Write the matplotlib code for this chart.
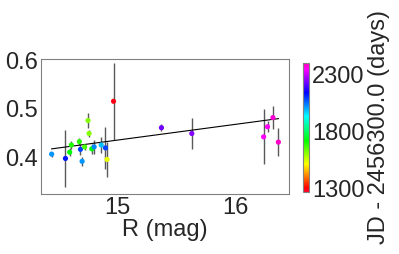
import matplotlib
matplotlib.use("Agg")
import matplotlib.pyplot as plt
from matplotlib import cm, colors
import numpy as np

plt.rcParams['font.family'] = ['Liberation Sans', 'DejaVu Sans']

# R magnitude, quantity, error, epoch (JD - 2456300.0)
rmag = [14.44, 14.557, 14.593, 14.607, 14.675, 14.684, 14.698, 14.72, 14.748, 14.757, 14.78,
        14.80, 14.86, 14.896, 14.909, 14.964, 15.37, 15.627, 16.235, 16.268, 16.314, 16.36]
val = [0.406, 0.397, 0.410, 0.425, 0.432, 0.416, 0.391, 0.421, 0.476, 0.449, 0.417,
       0.421, 0.425, 0.419, 0.395, 0.516, 0.461, 0.449, 0.442, 0.463, 0.482, 0.431]
err = [0.005, 0.059, 0.008, 0.008, 0.008, 0.012, 0.010, 0.006, 0.015, 0.008, 0.010,
       0.015, 0.016, 0.043, 0.036, 0.080, 0.007, 0.033, 0.057, 0.011, 0.024, 0.029]
jd = [2020, 2120, 1720, 1700, 1690, 2090, 2020, 1665, 1610, 1610, 1720,
      2030, 1985, 2085, 1530, 1285, 2235, 2245, 2350, 2360, 2385, 2395]

fit_slope = 0.0328
fit_icpt = -0.0567

jd_min, jd_max = 1265, 2405
cbar_ticks = [1300, 1800, 2300]

fs = 17
tc = '#262626'

fig = plt.figure(figsize=(3.99, 2.54), dpi=100)
ax = fig.add_axes([41/399, 60/254, 248/399, 135/254])
cax = fig.add_axes([303/399, 62/254, 6/399, 129/254])

norm = colors.Normalize(vmin=jd_min, vmax=jd_max)
cmap = cm.gist_rainbow

x = np.array(rmag)
y = np.array(val)
ax.errorbar(x, y, yerr=err, fmt='none', ecolor='0.35', elinewidth=1, zorder=1)
ax.scatter(x, y, c=jd, cmap=cmap, norm=norm, s=14, zorder=3, edgecolors='none')

xf = np.array([x.min(), x.max()])
ax.plot(xf, fit_slope*xf + fit_icpt, color='k', lw=0.8, zorder=2)

ax.set_xlim(14.35, 16.45)
ax.set_ylim(0.323, 0.604)
ax.set_xticks([15, 16])
ax.set_yticks([0.4, 0.5, 0.6])
ax.set_xlabel('R (mag)', fontsize=fs, color=tc, labelpad=0)
ax.tick_params(length=0, labelsize=fs, labelcolor=tc, pad=2)
for s in ax.spines.values():
    s.set_color('0.5')

cb = fig.colorbar(cm.ScalarMappable(norm=norm, cmap=cmap), cax=cax, ticks=cbar_ticks)
cb.outline.set_edgecolor('0.5')
cb.ax.tick_params(length=0, labelsize=fs, labelcolor=tc, pad=2)
cb.set_label('JD - 2456300.0 (days)', fontsize=fs, color=tc, labelpad=3)

fig.savefig('out.png', dpi=100)
